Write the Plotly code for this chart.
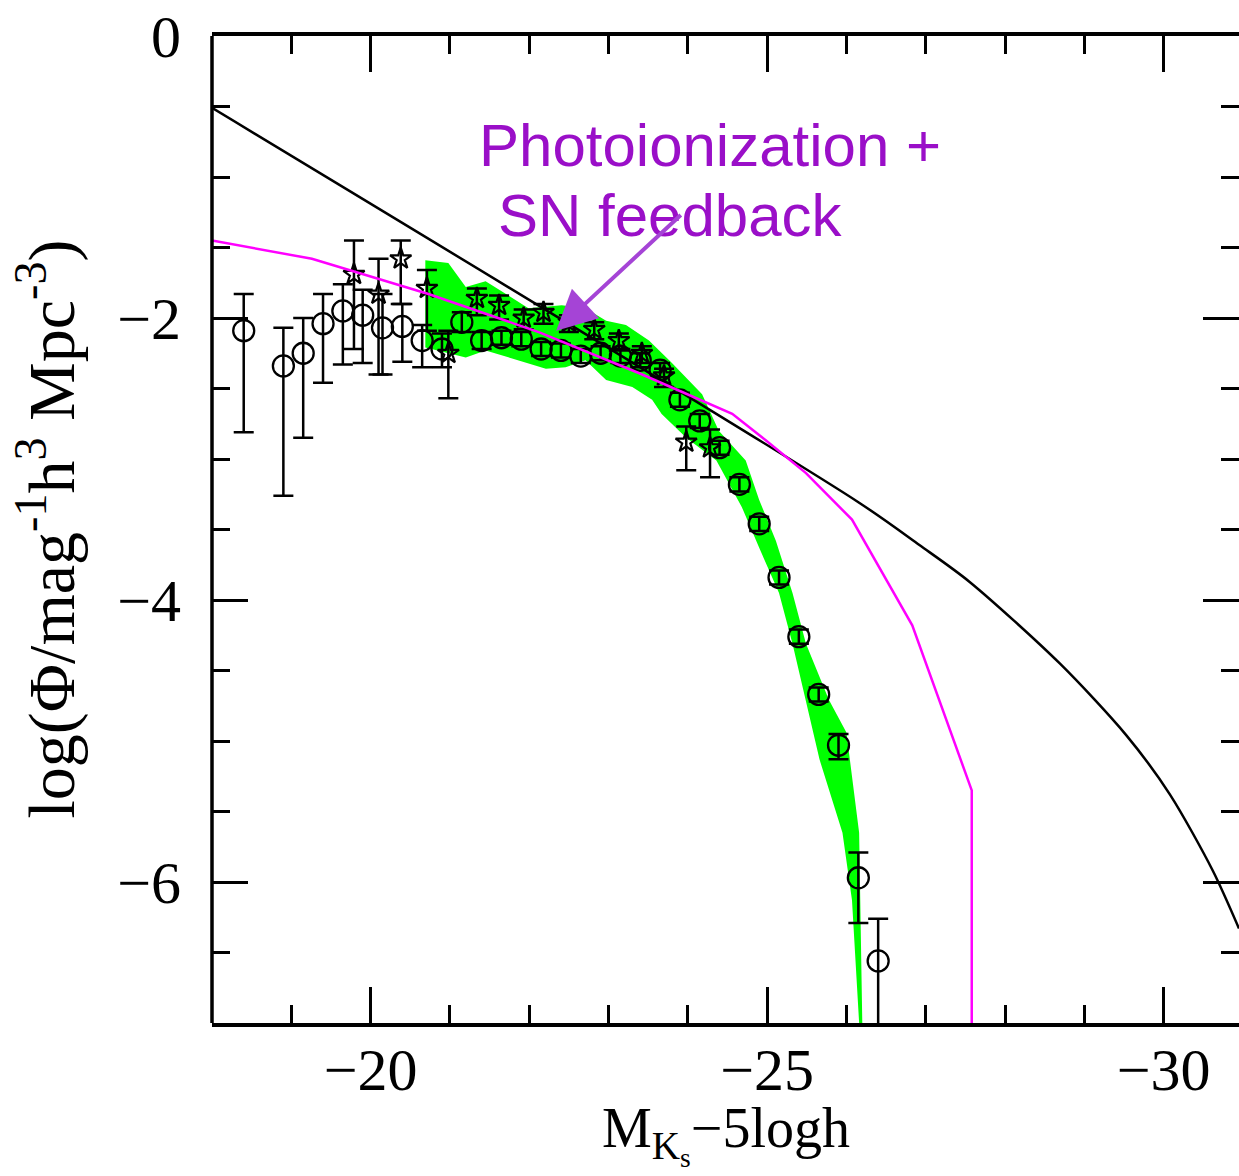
import plotly.graph_objects as go

# ---------------- data ----------------
# observed LF (open circles)
circ_x = [-18.40, -18.90, -19.15, -19.40, -19.65, -19.90, -20.15, -20.40, -20.65, -20.90,
          -21.15, -21.40, -21.65, -21.90, -22.15, -22.40, -22.65, -22.90, -23.15, -23.40,
          -23.65, -23.90, -24.15, -24.40, -24.65, -24.90, -25.15, -25.40, -25.65, -25.90,
          -26.15, -26.40]
circ_y = [-2.09, -2.34, -2.25, -2.04, -1.95, -1.98, -2.07, -2.06, -2.16, -2.22,
          -2.03, -2.16, -2.14, -2.15, -2.22, -2.23, -2.27, -2.25, -2.27, -2.30,
          -2.37, -2.58, -2.73, -2.92, -3.18, -3.46, -3.84, -4.26, -4.67, -5.03,
          -5.97, -6.56]
circ_err_up = [0.26, 0.27, 0.25, 0.21, 0.19, 0.18, 0.24, 0.16, 0.11, 0.11,
               0.07, 0.06, 0.05, 0.05, 0.05, 0.05, 0.05, 0.05, 0.05, 0.05,
               0.05, 0.05, 0.05, 0.05, 0.05, 0.05, 0.05, 0.05, 0.05, 0.08,
               0.18, 0.30]
circ_err_dn = [0.72, 0.92, 0.60, 0.42, 0.38, 0.34, 0.33, 0.25, 0.19, 0.13,
               0.07, 0.06, 0.05, 0.05, 0.05, 0.05, 0.05, 0.05, 0.05, 0.05,
               0.05, 0.05, 0.05, 0.05, 0.05, 0.05, 0.05, 0.05, 0.05, 0.10,
               0.32, 0.60]

# observed LF (stars)
star_x = [-19.79, -20.10, -20.38, -20.71, -20.98, -21.34, -21.62, -21.93, -22.18, -22.50,
          -22.82, -23.13, -23.42, -23.70, -23.98, -24.28]
star_y = [-1.69, -1.83, -1.58, -1.79, -2.25, -1.86, -1.91, -2.00, -1.96, -2.03,
          -2.08, -2.16, -2.25, -2.41, -2.88, -2.92]
star_err_up = [0.24, 0.25, 0.13, 0.13, 0.16, 0.07, 0.07, 0.06, 0.06, 0.05,
               0.05, 0.05, 0.05, 0.05, 0.11, 0.13]
star_err_dn = [0.53, 0.57, 0.32, 0.30, 0.32, 0.12, 0.10, 0.08, 0.08, 0.07,
               0.07, 0.07, 0.07, 0.08, 0.20, 0.21]

# model without feedback (black)
black_x = [-18.00, -26.16, -26.92, -27.55, -28.69, -29.53, -30.08, -30.62, -30.95]
black_y = [-0.51, -3.31, -3.61, -3.87, -4.45, -4.96, -5.38, -5.92, -6.33]

# model with photoionization + SN feedback (magenta)
mag_x = [-18.00, -19.26, -20.73, -22.12, -23.38, -24.27, -24.56, -24.99, -25.49,
         -26.07, -26.83, -27.58, -27.58]
mag_y = [-1.45, -1.58, -1.83, -2.10, -2.39, -2.61, -2.68, -2.87, -3.10,
         -3.43, -4.18, -5.35, -7.10]

# green band (upper edge left->right, lower edge right->left)
band_up_x = [-20.69, -20.98, -21.20, -21.45, -21.99, -22.41, -22.71, -22.97, -23.22, -23.51,
             -23.80, -24.18, -24.39, -24.73, -24.90, -25.11, -25.32, -25.49, -25.78, -26.00,
             -26.16, -26.20]
band_up_y = [-1.59, -1.61, -1.78, -1.74, -1.93, -1.91, -1.93, -2.02, -2.05, -2.16,
             -2.32, -2.54, -2.80, -3.01, -3.29, -3.58, -3.95, -4.31, -4.71, -4.94,
             -5.65, -7.00]
band_lo_x = [-26.16, -26.07, -25.95, -25.66, -25.32, -25.15, -24.90, -24.68, -24.36, -23.98,
             -23.67, -23.55, -23.30, -22.97, -22.71, -22.46, -22.21, -21.45, -21.20, -20.69]
band_lo_y = [-7.00, -6.13, -5.65, -5.13, -4.31, -3.95, -3.63, -3.34, -3.01, -2.85,
             -2.68, -2.58, -2.49, -2.44, -2.30, -2.35, -2.36, -2.23, -2.28, -2.21]

x_tickvals = [-20, -25, -30]
x_ticktext = ["\u221220", "\u221225", "\u221230"]
y_tickvals = [0, -2, -4, -6]
y_ticktext = ["0", "\u22122", "\u22124", "\u22126"]

SERIF = "Liberation Serif"
PURPLE = "#9a0fc8"
ARROW = "#a544d6"

fig = go.Figure()

fig.add_trace(go.Scatter(
    x=band_up_x + band_lo_x, y=band_up_y + band_lo_y,
    fill="toself", fillcolor="#00ff00", mode="lines",
    line=dict(color="#00ff00", width=0), hoverinfo="skip", showlegend=False))

fig.add_trace(go.Scatter(
    x=circ_x, y=circ_y, mode="markers",
    marker=dict(symbol="circle-open", size=21, color="black", line=dict(width=2.3, color="black")),
    error_y=dict(type="data", symmetric=False, array=circ_err_up, arrayminus=circ_err_dn,
                 color="black", thickness=2.5, width=10),
    showlegend=False))

fig.add_trace(go.Scatter(
    x=star_x, y=star_y, mode="markers",
    marker=dict(symbol="star-open", size=16, color="black", line=dict(width=2.2, color="black")),
    error_y=dict(type="data", symmetric=False, array=star_err_up, arrayminus=star_err_dn,
                 color="black", thickness=2.5, width=10),
    showlegend=False))

fig.add_trace(go.Scatter(
    x=black_x, y=black_y, mode="lines",
    line=dict(color="black", width=2.5, shape="spline", smoothing=0.8), showlegend=False))

fig.add_trace(go.Scatter(
    x=mag_x, y=mag_y, mode="lines",
    line=dict(color="#ff00ff", width=2.5), showlegend=False))

# left axis line (right one lies just outside the picture)
fig.add_shape(type="line", xref="paper", yref="paper", x0=0, x1=0, y0=0, y1=1,
              line=dict(color="black", width=3.5))

# annotation text + arrow
fig.add_annotation(x=-21.34, y=-0.78, xref="x", yref="y", text="Photoionization +",
                   showarrow=False, xanchor="left", yanchor="middle",
                   font=dict(family="Liberation Sans", size=60, color=PURPLE))
fig.add_annotation(x=-21.58, y=-1.275, xref="x", yref="y", text="SN feedback",
                   showarrow=False, xanchor="left", yanchor="middle",
                   font=dict(family="Liberation Sans", size=60, color=PURPLE))
fig.add_annotation(x=-22.34, y=-2.09, ax=-23.93, ay=-1.26, xref="x", yref="y",
                   axref="x", ayref="y", text="", showarrow=True,
                   arrowhead=2, arrowsize=2.0, arrowwidth=4, arrowcolor=ARROW, standoff=0)

# axis titles
fig.add_annotation(x=0, y=0.5, xref="paper", yref="paper", xshift=-165,
                   text="log(\u03a6/mag<sup>-1</sup>h<sup>3</sup> Mpc<sup>-3</sup>)",
                   textangle=-90, showarrow=False, xanchor="center", yanchor="middle",
                   font=dict(family=SERIF, size=66, color="black"))
fig.add_annotation(x=0.5, y=0, xref="paper", yref="paper", yshift=-112,
                   text="M<sub>K<sub>s</sub></sub>\u22125logh",
                   showarrow=False, xanchor="center", yanchor="middle",
                   font=dict(family=SERIF, size=56, color="black"))

fig.update_xaxes(
    range=[-18, -30.95], autorange=False,
    tickvals=x_tickvals, ticktext=x_ticktext,
    ticks="inside", ticklen=36, tickwidth=2.5, tickcolor="black",
    minor=dict(ticks="inside", dtick=1, tick0=-20, ticklen=18, tickwidth=2.5, tickcolor="black"),
    showline=True, linewidth=3.5, linecolor="black", mirror="ticks",
    showgrid=False, zeroline=False,
    tickfont=dict(family=SERIF, size=60, color="black"),
    ticklabelstandoff=-9)

fig.update_yaxes(
    range=[-7, 0], autorange=False,
    tickvals=y_tickvals, ticktext=y_ticktext,
    ticks="inside", ticklen=36, tickwidth=2.5, tickcolor="black",
    minor=dict(ticks="inside", dtick=0.5, tick0=0, ticklen=18, tickwidth=2.5, tickcolor="black"),
    showline=False, mirror="ticks",
    showgrid=False, zeroline=False,
    tickfont=dict(family=SERIF, size=60, color="black"),
    ticklabelstandoff=30)

fig.update_layout(
    width=1239, height=1176,
    margin=dict(l=212, r=0, t=36, b=153),
    plot_bgcolor="white", paper_bgcolor="white",
    showlegend=False)

fig.write_html("out.html")
